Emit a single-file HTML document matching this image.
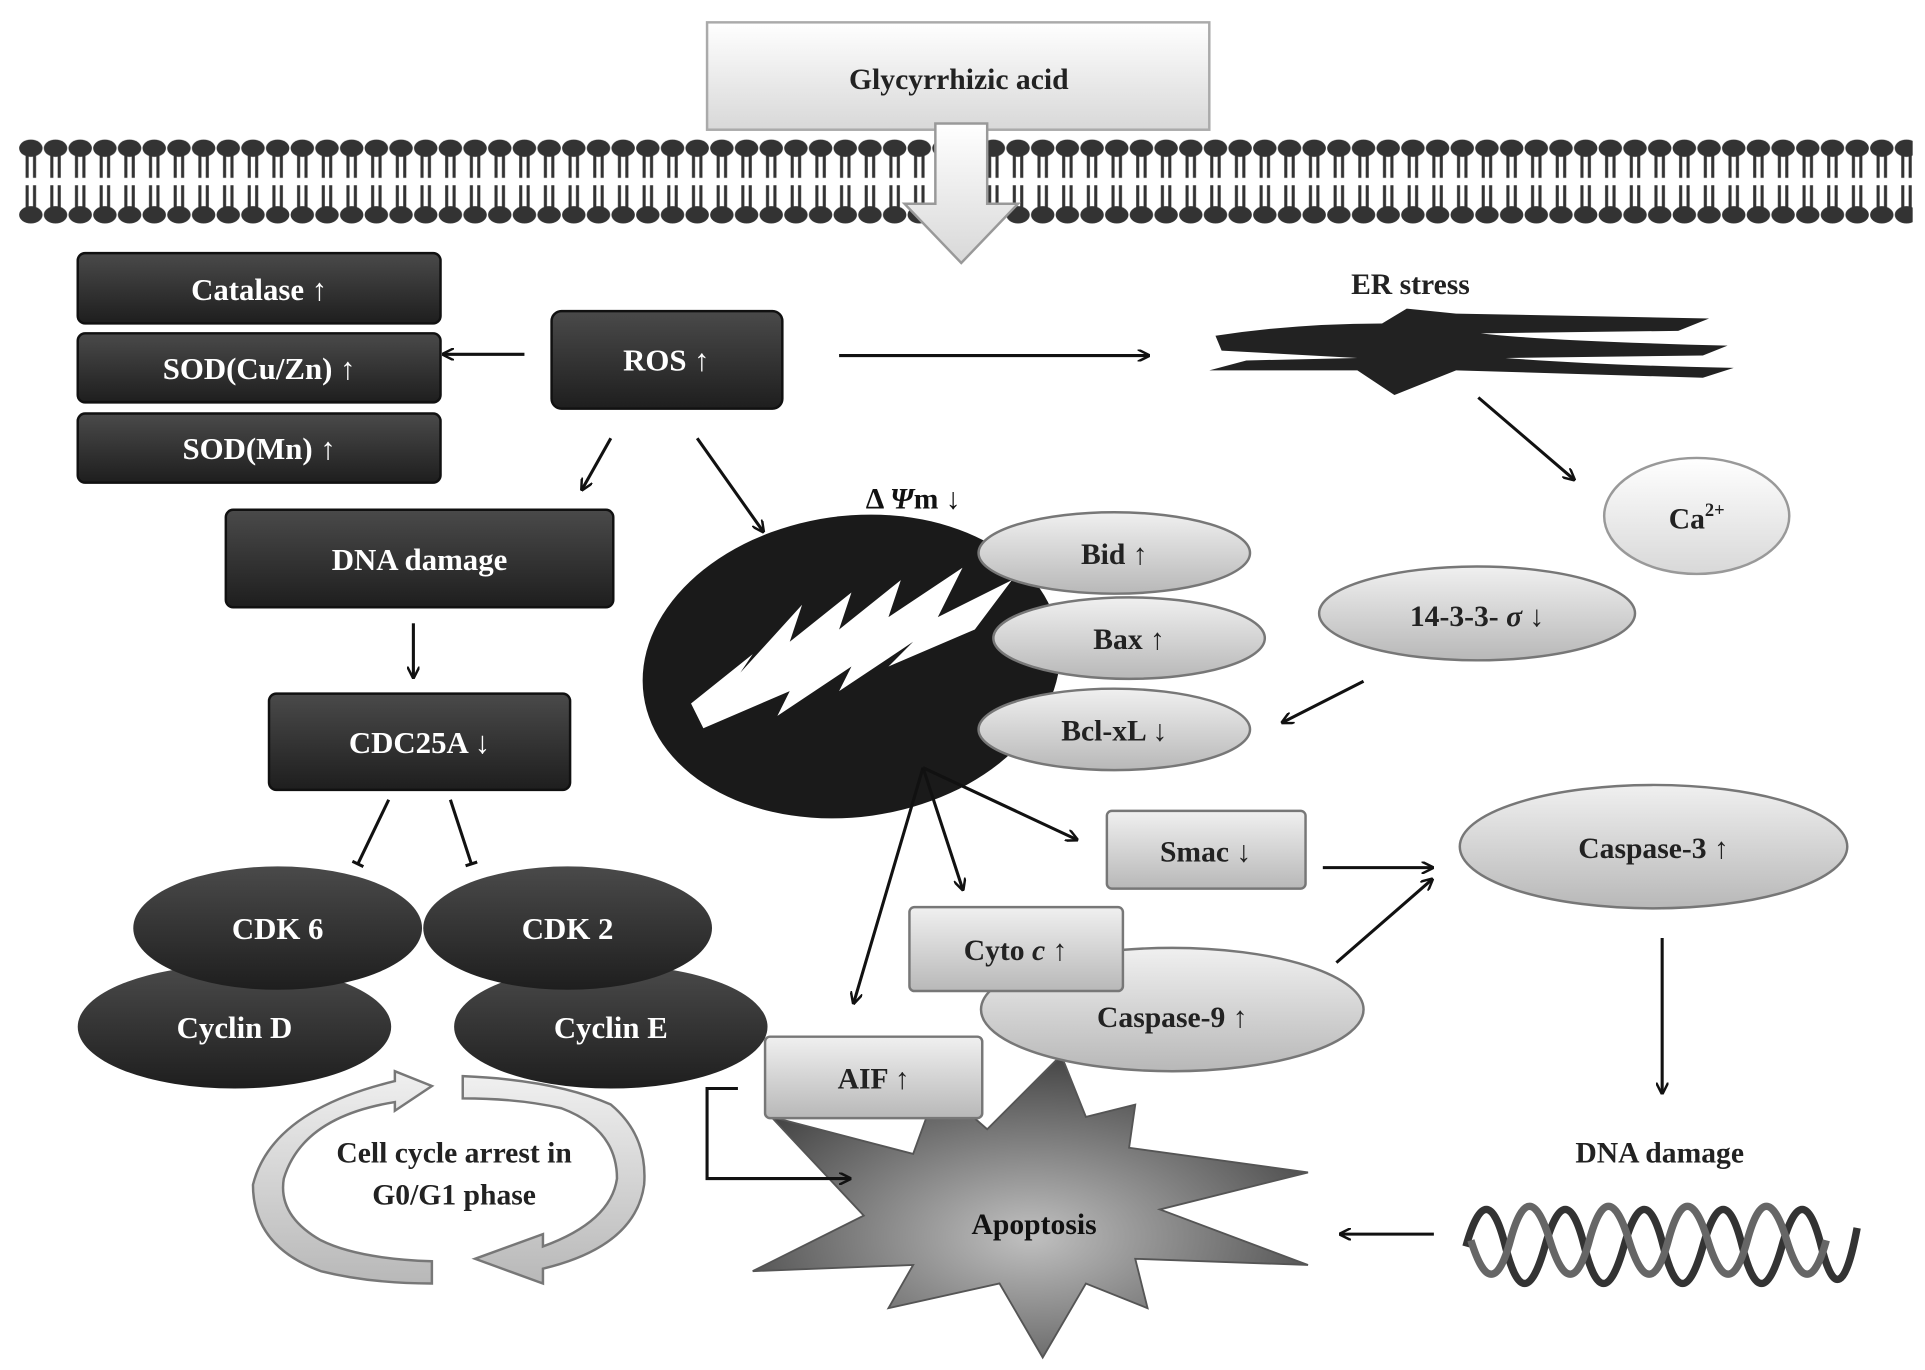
<!DOCTYPE html>
<html><head><meta charset="utf-8"><style>
html,body{margin:0;padding:0;background:#fff;}
svg{display:block;}
text{font-family:"Liberation Serif",serif;font-weight:bold;}
</style></head><body>
<svg width="1925" height="1370" viewBox="0 0 1560 1110" xmlns="http://www.w3.org/2000/svg">
<defs>
<linearGradient id="gw" x1="0" y1="0" x2="0" y2="1"><stop offset="0" stop-color="#fff"/><stop offset="1" stop-color="#d8d8d8"/></linearGradient>
<linearGradient id="gg" x1="0" y1="0" x2="0" y2="1"><stop offset="0" stop-color="#f0f0f0"/><stop offset="1" stop-color="#b8b8b8"/></linearGradient>
<linearGradient id="gd" x1="0" y1="0" x2="0" y2="1"><stop offset="0" stop-color="#4a4a4a"/><stop offset="1" stop-color="#1e1e1e"/></linearGradient>
<radialGradient id="gs" cx="0.5" cy="0.6" r="0.6"><stop offset="0" stop-color="#c0c0c0"/><stop offset="1" stop-color="#444"/></radialGradient>
<marker id="ah" markerWidth="10" markerHeight="10" refX="8" refY="5" orient="auto" markerUnits="userSpaceOnUse"><path d="M0,0 L10,5 L0,10" fill="none" stroke="#111" stroke-width="2"/></marker>
<marker id="tb" markerWidth="10" markerHeight="10" refX="5" refY="5" orient="auto" markerUnits="userSpaceOnUse"><path d="M5,0 L5,10" stroke="#111" stroke-width="2.5"/></marker>
<pattern id="mem" x="15" y="110" width="20" height="75" patternUnits="userSpaceOnUse">
<ellipse cx="10" cy="10" rx="9.5" ry="7" fill="#333"/>
<ellipse cx="10" cy="64" rx="9.5" ry="7" fill="#333"/>
<line x1="7" y1="14" x2="7" y2="34" stroke="#333" stroke-width="2.5"/>
<line x1="13" y1="14" x2="13" y2="34" stroke="#333" stroke-width="2.5"/>
<line x1="7" y1="40" x2="7" y2="60" stroke="#333" stroke-width="2.5"/>
<line x1="13" y1="40" x2="13" y2="60" stroke="#333" stroke-width="2.5"/>
</pattern>
</defs>

<rect x="15" y="110" width="1535" height="75" fill="url(#mem)"/>
<rect x="573" y="18" width="407" height="87" fill="url(#gw)" stroke="#aaa" stroke-width="2"/>
<text x="777" y="72" font-size="24" text-anchor="middle" fill="#222">Glycyrrhizic acid</text>
<path d="M758,100 L800,100 L800,165 L825,165 L779,213 L733,165 L758,165 Z" fill="url(#gw)" stroke="#999" stroke-width="2"/>

<g fill="url(#gd)" stroke="#111" stroke-width="2">
<rect x="63" y="205" width="294" height="57" rx="6"/>
<rect x="63" y="270" width="294" height="56" rx="6"/>
<rect x="63" y="335" width="294" height="56" rx="6"/>
<rect x="447" y="252" width="187" height="79" rx="8"/>
<rect x="183" y="413" width="314" height="79" rx="6"/>
<rect x="218" y="562" width="244" height="78" rx="6"/>
</g>
<g fill="#fff" font-size="25" text-anchor="middle">
<text x="210" y="243">Catalase ↑</text>
<text x="210" y="307">SOD(Cu/Zn) ↑</text>
<text x="210" y="372">SOD(Mn) ↑</text>
<text x="540" y="300">ROS ↑</text>
<text x="340" y="462">DNA damage</text>
<text x="340" y="610">CDC25A ↓</text>
</g>

<g stroke="#111" stroke-width="2.5" fill="none">
<line x1="425" y1="287" x2="360" y2="287" marker-end="url(#ah)"/>
<line x1="680" y1="288" x2="930" y2="288" marker-end="url(#ah)"/>
<line x1="495" y1="355" x2="472" y2="396" marker-end="url(#ah)"/>
<line x1="565" y1="355" x2="618" y2="430" marker-end="url(#ah)"/>
<line x1="335" y1="505" x2="335" y2="548" marker-end="url(#ah)"/>
<line x1="315" y1="648" x2="290" y2="700" marker-end="url(#tb)"/>
<line x1="365" y1="648" x2="382" y2="700" marker-end="url(#tb)"/>
<line x1="1198" y1="322" x2="1275" y2="388" marker-end="url(#ah)"/>
<line x1="1105" y1="552" x2="1040" y2="585" marker-end="url(#ah)"/>
<line x1="1072" y1="703" x2="1160" y2="703" marker-end="url(#ah)"/>
<line x1="1083" y1="780" x2="1160" y2="713" marker-end="url(#ah)"/>
<line x1="1347" y1="760" x2="1347" y2="885" marker-end="url(#ah)"/>
<line x1="1162" y1="1000" x2="1087" y2="1000" marker-end="url(#ah)"/>
</g>

<text x="1143" y="238" font-size="24" text-anchor="middle" fill="#222">ER stress</text>
<g fill="#222">
<path d="M985,272 Q1050,262 1120,262 L1140,250 L1180,254 L1385,258 L1360,268 L1200,270 Q1250,276 1400,280 L1380,288 L1220,290 Q1300,296 1405,298 L1380,306 L1180,300 L1130,320 L1100,300 L980,300 L1010,292 L1100,290 L990,284 Z"/>
</g>

<ellipse cx="1375" cy="418" rx="75" ry="47" fill="url(#gw)" stroke="#999" stroke-width="2"/>
<text x="1375" y="428" font-size="24" text-anchor="middle" fill="#222">Ca<tspan font-size="15" dy="-10">2+</tspan></text>
<ellipse cx="1197" cy="497" rx="128" ry="38" fill="url(#gg)" stroke="#777" stroke-width="2"/>
<text x="1197" y="507" font-size="24" text-anchor="middle" fill="#222">14-3-3- <tspan font-style="italic">σ</tspan> ↓</text>

<ellipse cx="690" cy="540" rx="170" ry="122" fill="#1a1a1a" transform="rotate(-8 690 540)"/>
<path d="M560,570 L610,530 L600,545 L650,490 L640,520 L690,480 L680,510 L730,470 L720,500 L780,460 L760,500 L820,470 L790,510 L720,540 L740,520 L680,560 L690,540 L630,580 L640,560 L570,590 Z" fill="#fff"/>
<text x="740" y="412" font-size="24" text-anchor="middle" fill="#111">Δ <tspan font-style="italic">Ψ</tspan>m ↓</text>

<!-- Apoptosis star (behind AIF) -->
<path d="M610,1030 L700,985 L625,905 L740,935 L760,880 L800,915 L860,855 L880,905 L920,895 L915,930 L1060,950 L940,980 L1060,1025 L920,1020 L930,1060 L880,1040 L845,1100 L810,1040 L720,1060 L740,1025 Z" fill="url(#gs)" stroke="#555" stroke-width="1.5"/>
<text x="838" y="1000" font-size="24" text-anchor="middle" fill="#111">Apoptosis</text>

<g fill="url(#gg)" stroke="#777" stroke-width="2">
<ellipse cx="903" cy="448" rx="110" ry="33"/>
<ellipse cx="915" cy="517" rx="110" ry="33"/>
<ellipse cx="903" cy="591" rx="110" ry="33"/>
<ellipse cx="1340" cy="686" rx="157" ry="50"/>
<ellipse cx="950" cy="818" rx="155" ry="50"/>
</g>
<g font-size="24" text-anchor="middle" fill="#222">
<text x="903" y="457">Bid ↑</text>
<text x="915" y="526">Bax ↑</text>
<text x="903" y="600">Bcl-xL ↓</text>
<text x="1340" y="695">Caspase-3 ↑</text>
<text x="950" y="832">Caspase-9 ↑</text>
</g>
<g fill="url(#gg)" stroke="#777" stroke-width="2">
<rect x="897" y="657" width="161" height="63" rx="4"/>
<rect x="737" y="735" width="173" height="68" rx="4"/>
<rect x="620" y="840" width="176" height="66" rx="4"/>
</g>
<g font-size="24" text-anchor="middle" fill="#222">
<text x="977" y="698">Smac ↓</text>
<text x="823" y="778">Cyto <tspan font-style="italic">c</tspan> ↑</text>
<text x="708" y="882">AIF ↑</text>
</g>
<g stroke="#111" stroke-width="2.5" fill="none">
<line x1="748" y1="622" x2="692" y2="812" marker-end="url(#ah)"/>
<line x1="748" y1="622" x2="780" y2="720" marker-end="url(#ah)"/>
<line x1="748" y1="622" x2="872" y2="680" marker-end="url(#ah)"/>
<polyline points="598,882 573,882 573,955 688,955" marker-end="url(#ah)"/>
</g>

<g fill="url(#gd)">
<ellipse cx="190" cy="832" rx="127" ry="50"/>
<ellipse cx="495" cy="832" rx="127" ry="50"/>
<ellipse cx="225" cy="752" rx="117" ry="50"/>
<ellipse cx="460" cy="752" rx="117" ry="50"/>
</g>
<g font-size="25" text-anchor="middle" fill="#fff">
<text x="225" y="761">CDK 6</text>
<text x="460" y="761">CDK 2</text>
<text x="190" y="841">Cyclin D</text>
<text x="495" y="841">Cyclin E</text>
</g>

<g fill="url(#gg)" stroke="#777" stroke-width="2">
<path d="M350,880 L320,868 L320,876 Q220,900 205,960 Q205,1010 260,1030 Q300,1040 350,1040 L350,1022 Q290,1020 260,1005 Q225,985 230,955 Q245,905 320,893 L320,900 Z"/>
<path d="M375,872 Q450,875 495,895 Q525,920 522,960 Q515,1010 440,1028 L440,1040 L385,1020 L440,1000 L440,1010 Q495,990 500,955 Q500,915 455,898 Q420,890 375,890 Z"/>
</g>
<text x="368" y="942" font-size="24" text-anchor="middle" fill="#222">Cell cycle arrest in</text>
<text x="368" y="976" font-size="24" text-anchor="middle" fill="#222">G0/G1 phase</text>

<text x="1345" y="942" font-size="24" text-anchor="middle" fill="#222">DNA damage</text>
<path d="M1188,1010 Q1205,950 1220,1010 T1252,1010 T1284,1010 T1316,1010 T1348,1010 T1380,1010 T1412,1010 T1444,1010 T1476,1010 T1505,995" fill="none" stroke="#333" stroke-width="6"/>
<path d="M1192,1005 Q1209,1060 1224,1005 T1256,1005 T1288,1005 T1320,1005 T1352,1005 T1384,1005 T1416,1005 T1448,1005 T1480,1005" fill="none" stroke="#666" stroke-width="6"/>
</svg>
</body></html>
